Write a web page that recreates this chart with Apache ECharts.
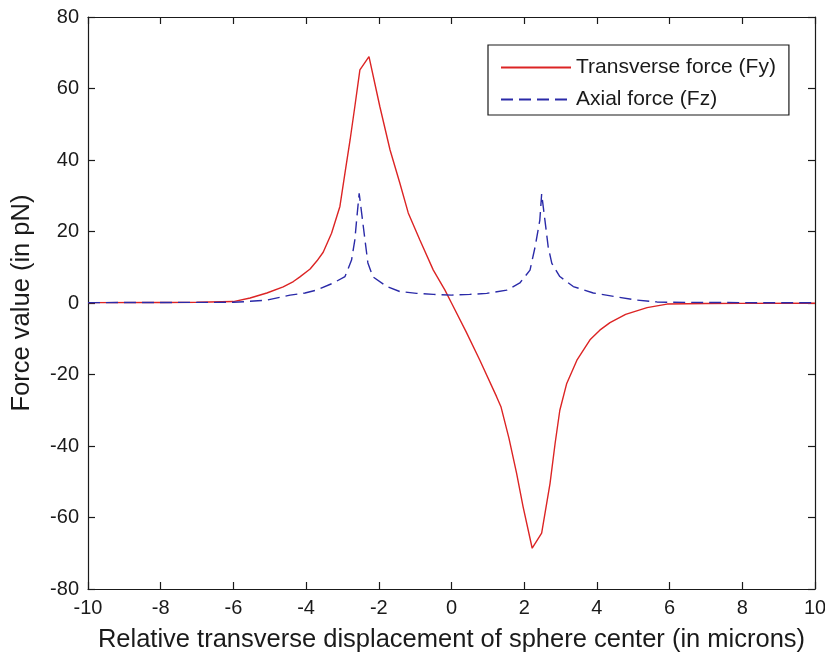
<!DOCTYPE html>
<html>
<head>
<meta charset="utf-8">
<script src="https://cdn.jsdelivr.net/npm/echarts@6/dist/echarts.min.js"></script>
<style>
  html, body { margin: 0; padding: 0; background: #ffffff; }
  #chart { width: 825px; height: 656px; }
</style>
</head>
<body>
<div id="chart"></div>
<script>
// Transverse force Fy versus sphere-centre displacement (microns, pN)
const fyX = [-10, -8, -7, -6, -5.54, -5.08, -4.63, -4.35, -4.17, -3.89, -3.7, -3.53, -3.3, -3.07, -2.93, -2.79, -2.66, -2.52, -2.27,
             -1.97, -1.69, -1.42, -1.19, -0.87, -0.5, -0.18, 0, 0.4, 0.78, 1.24, 1.36, 1.58, 1.79, 1.97, 2.22,
             2.48, 2.71, 2.85, 2.98, 3.17, 3.45, 3.81, 4.08, 4.36, 4.79, 5.38, 5.93, 7, 8, 10];
const fyY = [0.1, 0.15, 0.2, 0.4, 1.4, 2.8, 4.5, 6.0, 7.3, 9.5, 11.8, 14.2, 19.5, 27, 36.4, 45.6, 54.9, 65.2, 68.9,
             54.9, 42.8, 33.5, 25.2, 17.6, 9.2, 3.6, 0, -8, -16, -26.2, -29, -37.8, -47.6, -57, -68.6,
             -64.4, -50.5, -39.3, -30, -22.5, -16, -10.3, -7.6, -5.5, -3.2, -1.3, -0.3, -0.15, -0.1, -0.05];

// Axial force Fz
const fzX = [-10, -8, -6, -5.65, -5.08, -4.44, -4.03, -3.71, -3.25, -2.93, -2.75, -2.66, -2.61, -2.54, -2.47, -2.38, -2.3, -2.16,
             -1.78, -1.42, -0.96, -0.5, 0, 0.5, 0.97, 1.52, 1.88, 2.16, 2.3, 2.43, 2.48, 2.57, 2.66, 2.76, 2.98,
             3.35, 3.9, 4.55, 5.1, 5.65, 6, 8, 10];
const fzY = [0.1, 0.15, 0.2, 0.4, 0.8, 2.2, 2.8, 3.6, 5.6, 7.4, 12, 17.6, 23.2, 30.7, 25, 17.6, 11.2, 7.3,
             4.6, 3.2, 2.7, 2.4, 2.2, 2.4, 2.7, 3.6, 5.6, 9.2, 15.7, 23.2, 30.5, 23.2, 15.7, 11.1, 7.4,
             4.6, 2.8, 1.7, 0.8, 0.3, 0.2, 0.1, 0.05];

const xTicks = [-10, 10, 2];   // min, max, step
const yTicks = [-80, 80, 20];

const seriesNames = ['Transverse force (Fy)', 'Axial force (Fz)'];
const xTitle = 'Relative transverse displacement of sphere center (in microns)';
const yTitle = 'Force value (in pN)';

const zip = (xs, ys) => xs.map((x, i) => [x, ys[i]]);

const FONT = 'Liberation Sans, Arial, sans-serif';
const INK = '#1a1a1a';

const baseAxis = {
  type: 'value',
  axisLine: { show: true, onZero: false, lineStyle: { color: INK, width: 1.2 } },
  axisTick: { show: true, inside: true, length: 7, lineStyle: { color: INK, width: 1.2 } },
  splitLine: { show: false }
};

const chart = echarts.init(document.getElementById('chart'), null, { renderer: 'canvas' });
chart.setOption({
  backgroundColor: '#ffffff',
  animation: false,
  grid: { left: 88, right: 10, top: 17, bottom: 67, containLabel: false, outerBoundsMode: 'none' },
  xAxis: [
    Object.assign({}, baseAxis, {
      position: 'bottom', min: xTicks[0], max: xTicks[1], interval: xTicks[2],
      name: xTitle, nameLocation: 'middle', nameGap: 38,
      nameTextStyle: { fontFamily: FONT, fontSize: 25.5, color: INK },
      axisLabel: { show: true, margin: 9, fontFamily: FONT, fontSize: 20, color: INK }
    }),
    Object.assign({}, baseAxis, {
      position: 'top', min: xTicks[0], max: xTicks[1], interval: xTicks[2],
      axisLabel: { show: false }
    })
  ],
  yAxis: [
    Object.assign({}, baseAxis, {
      position: 'left', min: yTicks[0], max: yTicks[1], interval: yTicks[2],
      name: yTitle, nameLocation: 'middle', nameGap: 53, nameRotate: 90,
      nameTextStyle: { fontFamily: FONT, fontSize: 25.5, color: INK },
      axisLabel: { show: true, margin: 9, fontFamily: FONT, fontSize: 20, color: INK }
    }),
    Object.assign({}, baseAxis, {
      position: 'right', min: yTicks[0], max: yTicks[1], interval: yTicks[2],
      axisLabel: { show: false }
    })
  ],
  legend: {
    orient: 'vertical',
    left: 488, top: 45,
    itemWidth: 70, itemHeight: 14, itemGap: 11,
    padding: [12, 13, 5, 12],
    borderColor: INK, borderWidth: 1.2, backgroundColor: '#ffffff',
    itemStyle: { opacity: 0, color: 'transparent', borderWidth: 0 },
    textStyle: { fontFamily: FONT, fontSize: 21, color: INK },
    data: seriesNames
  },
  series: [
    {
      name: seriesNames[0], type: 'line', xAxisIndex: 0, yAxisIndex: 0,
      data: zip(fyX, fyY), showSymbol: false, symbol: 'none',
      lineStyle: { color: '#dc2424', width: 1.4 }, itemStyle: { color: '#dc2424' }
    },
    {
      name: seriesNames[1], type: 'line', xAxisIndex: 0, yAxisIndex: 0,
      data: zip(fzX, fzY), showSymbol: false, symbol: 'none',
      lineStyle: { color: '#2a2aa8', width: 1.4, type: [12, 6] }, itemStyle: { color: '#2a2aa8' }
    }
  ]
});
</script>
</body>
</html>
